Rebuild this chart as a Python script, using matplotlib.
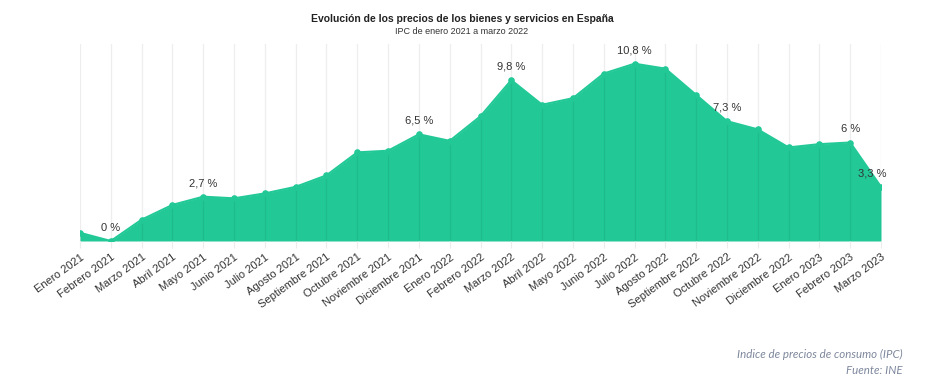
import matplotlib.pyplot as plt
import numpy as np

meses = ["Enero 2021", "Febrero 2021", "Marzo 2021", "Abril 2021", "Mayo 2021", "Junio 2021",
         "Julio 2021", "Agosto 2021", "Septiembre 2021", "Octubre 2021", "Noviembre 2021",
         "Diciembre 2021", "Enero 2022", "Febrero 2022", "Marzo 2022", "Abril 2022", "Mayo 2022",
         "Junio 2022", "Julio 2022", "Agosto 2022", "Septiembre 2022", "Octubre 2022",
         "Noviembre 2022", "Diciembre 2022", "Enero 2023", "Febrero 2023", "Marzo 2023"]
ipc = [0.5, 0.0, 1.3, 2.2, 2.7, 2.6, 2.9, 3.3, 4.0, 5.4, 5.5, 6.5, 6.1, 7.6, 9.8, 8.3, 8.7,
       10.2, 10.8, 10.5, 8.9, 7.3, 6.8, 5.7, 5.9, 6.0, 3.3]
etiquetas = {1: "0 %", 4: "2,7 %", 11: "6,5 %", 14: "9,8 %", 18: "10,8 %",
             21: "7,3 %", 25: "6 %", 26: "3,3 %"}

plt.rcParams['font.family'] = ['Liberation Sans', 'DejaVu Sans']

fig = plt.figure(figsize=(9.49, 3.91), dpi=100)
ax = fig.add_axes([80/949, 1-241/391, (881-80)/949, (241-44)/391])

x = np.arange(len(meses))
verde = "#22c997"
ax.fill_between(x, ipc, 0, color=verde, linewidth=0, zorder=1)
ax.plot(x, ipc, color=verde, linewidth=1.5, zorder=2)
ax.scatter(x, ipc, color=verde, s=14, zorder=3)

for xi in x:
    ax.axvline(xi, color=(0, 0, 0, 0.065), linewidth=1, zorder=2.5)

for i, txt in etiquetas.items():
    dx = -6 if i == len(meses) - 1 else 0
    ax.annotate(txt, (x[i], ipc[i]), xytext=(dx, 6), textcoords="offset points",
                ha="center", va="bottom", fontsize=8, color="#333333")

ax.set_xlim(0, len(meses) - 1)
ax.set_ylim(0, 12)
ax.set_xticks(x)
ax.set_xticklabels(meses, rotation=36, ha="right", rotation_mode="anchor",
                   fontsize=8, color="#333333")
ax.tick_params(axis="x", length=5, color="#ececec", pad=3)
ax.set_yticks([])
for s in ax.spines.values():
    s.set_visible(False)

fig.text(462/949, 1-19/391, "Evolución de los precios de los bienes y servicios en España",
         ha="center", va="center", fontsize=7.5, fontweight="bold", color="#222222")
fig.text(462/949, 1-31/391, "IPC de enero 2021 a marzo 2022",
         ha="center", va="center", fontsize=6.5, color="#333333")
fig.text(903/949, 1-354/391, "Indice de precios de consumo (IPC)", ha="right", va="center",
         fontsize=8.3, style="italic", color="#7d879c", family=["Lato", "DejaVu Sans"])
fig.text(903/949, 1-370/391, "Fuente: INE", ha="right", va="center",
         fontsize=8.3, style="italic", color="#7d879c", family=["Lato", "DejaVu Sans"])

fig.savefig("out.png", dpi=100)
